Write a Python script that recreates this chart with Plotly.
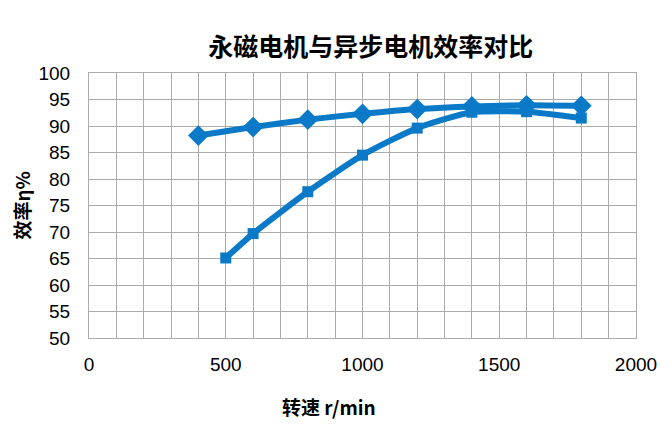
import plotly.graph_objects as go

# permanent magnet motor (diamonds) and induction motor (squares)
pm_speed = [400, 600, 800, 1000, 1200, 1400, 1600, 1800]
pm_eff = [88.2, 89.8, 91.2, 92.3, 93.2, 93.7, 93.9, 93.8]

im_speed = [500, 600, 800, 1000, 1200, 1400, 1600, 1800]
im_eff = [65.1, 69.7, 77.6, 84.5, 89.6, 92.6, 92.7, 91.5]

x_ticks = [0, 500, 1000, 1500, 2000]
y_ticks = [50, 55, 60, 65, 70, 75, 80, 85, 90, 95, 100]

blue = "#0A7AC8"
grid = "#ABABAB"
cjk = "Noto Sans CJK SC"

fig = go.Figure()

fig.add_trace(go.Scatter(
    x=pm_speed, y=pm_eff, mode="lines+markers",
    line=dict(color=blue, width=6, shape="spline", smoothing=0.6),
    marker=dict(symbol="diamond", size=16, color=blue),
    name="永磁电机"))

fig.add_trace(go.Scatter(
    x=im_speed, y=im_eff, mode="lines+markers",
    line=dict(color=blue, width=6, shape="spline", smoothing=0.6),
    marker=dict(symbol="square", size=11, color=blue),
    name="异步电机"))

# page has an 8px body margin, so the figure is a bit smaller than the window
fig.update_layout(
    width=663, height=419,
    margin=dict(l=81, r=35, t=65, b=89),
    paper_bgcolor="white", plot_bgcolor="white",
    showlegend=False,
    font=dict(family="Liberation Sans, Arial", color="black"),
    title=dict(text="<b>永磁电机与异步电机效率对比</b>",
               x=0.547, xanchor="center", y=0.906, yanchor="middle",
               font=dict(size=25, family=cjk, color="black")),
)

fig.add_annotation(text="<b>转速 r/min</b>", xref="paper", yref="paper",
                   x=0.439, y=-0.26, showarrow=False,
                   xanchor="center", yanchor="middle",
                   font=dict(size=19, family=cjk, color="black"))
fig.add_annotation(text="<b>效率η%</b>", xref="paper", yref="paper",
                   x=-0.1225, y=0.5, showarrow=False, textangle=-90,
                   xanchor="center", yanchor="middle",
                   font=dict(size=19, family=cjk, color="black"))

fig.update_xaxes(
    range=[0, 2000], tickvals=x_ticks,
    showgrid=True, gridcolor=grid, gridwidth=1,
    minor=dict(dtick=100, tick0=0, showgrid=True, gridcolor=grid, gridwidth=1),
    showline=True, linecolor=grid, linewidth=1, mirror=True,
    zeroline=False, ticks="",
    tickfont=dict(size=19), ticklabelstandoff=9,
)

fig.update_yaxes(
    range=[50, 100], tickvals=y_ticks,
    showgrid=True, gridcolor=grid, gridwidth=1,
    showline=True, linecolor=grid, linewidth=1, mirror=True,
    zeroline=False, ticks="",
    tickfont=dict(size=19), ticklabelstandoff=14,
)

fig.write_html("out.html")
